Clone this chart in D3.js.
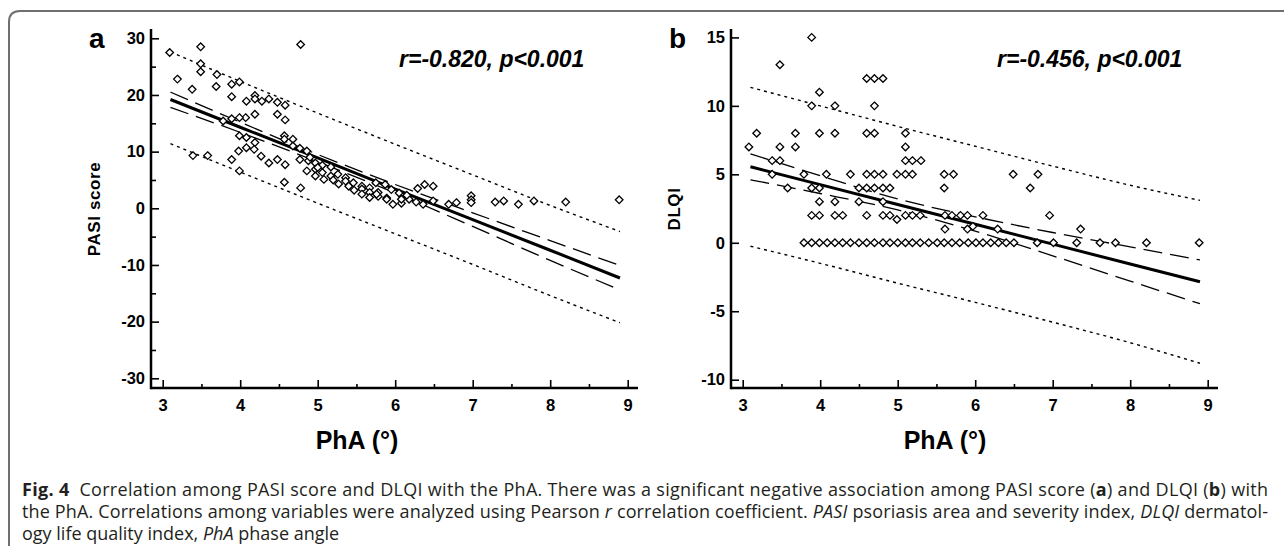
<!DOCTYPE html>
<html>
<head>
<meta charset="utf-8">
<script src="https://cdn.jsdelivr.net/npm/d3@7/dist/d3.min.js"></script>
<style>
  body { margin: 0; background: #fff; }
  svg { display: block; }
  .tick text { font-family: "Liberation Sans", Arial, sans-serif; font-weight: bold; font-size: 16.5px; fill: #000; }
</style>
</head>
<body>
<svg id="fig" width="1284" height="546"></svg>
<script>
// ─── DATA ────────────────────────────────────────────────────
// panel a: PhA vs PASI score
const pasiPhA = [3.09,3.49,3.49,3.49,3.70,3.19,3.38,3.69,3.89,3.99,3.89,4.08,4.19,4.19,4.28,4.37,4.48,4.58,4.48,4.58,
  4.19,4.07,3.99,3.89,3.78,3.99,4.08,4.19,3.98,4.08,4.18,4.27,4.37,4.48,4.58,4.57,4.57,4.68,4.68,4.77,
  4.86,4.77,4.88,4.97,4.86,4.97,4.97,5.06,5.06,5.17,5.17,5.26,5.36,5.36,5.46,5.57,5.57,5.67,5.67,5.78,
  3.39,3.58,3.89,3.99,4.57,4.78,4.78,5.57,5.67,5.78,5.89,5.76,5.89,5.97,6.08,6.08,6.18,6.27,6.36,6.49,
  6.38,6.49,6.29,6.69,6.79,6.98,6.98,6.98,7.29,7.40,7.59,7.79,8.20,8.89,5.75,5.87,5.95,6.05,6.15,5.47,
  5.27,5.08,4.90,5.00,5.20,5.40];
const pasiScore = [27.5,28.5,25.5,24.1,23.6,22.8,21.0,21.5,21.9,22.3,19.7,18.9,19.9,19.3,18.9,19.3,18.7,18.2,16.6,15.6,
  16.6,16.0,16.0,15.8,15.4,12.8,12.5,11.6,10.1,10.7,10.4,9.2,8.0,8.6,7.7,12.8,12.2,12.2,11.0,10.6,
  10.1,8.6,8.4,8.0,6.6,6.9,5.7,7.6,6.3,7.3,5.7,6.0,5.4,4.8,4.5,3.9,3.4,3.6,2.8,2.8,
  9.3,9.3,8.6,6.6,4.6,3.6,28.9,2.5,1.9,2.1,1.8,2.5,1.6,0.7,0.9,1.6,1.6,1.1,0.7,1.3,
  4.2,3.9,3.5,0.7,1.0,2.2,1.5,1.0,1.1,1.3,0.7,1.3,1.1,1.5,4.5,4.2,3.3,2.7,2.3,3.2,
  4.3,5.1,9.0,7.2,5.0,3.9];

// panel b: PhA vs DLQI
const dlqiPhA = [3.08,3.18,3.48,3.38,3.48,3.48,3.38,3.68,3.68,3.58,3.79,3.89,3.89,3.99,3.99,4.08,3.89,3.99,4.19,4.19,
  4.39,4.60,4.60,4.70,4.60,4.70,4.81,4.70,4.70,4.81,4.99,5.10,5.19,5.10,5.10,5.10,5.19,5.30,5.60,5.72,
  5.60,4.50,4.60,4.70,4.81,4.90,6.49,6.81,6.71,3.99,4.19,4.50,4.81,3.89,3.99,4.19,4.29,4.60,4.81,4.90,
  4.99,5.10,5.19,5.29,5.61,5.61,5.70,5.81,5.90,5.90,5.97,6.10,6.29,6.96,7.36,
  3.79,3.89,3.99,4.09,4.19,4.29,4.39,4.50,4.60,4.70,4.81,4.90,5.00,5.10,5.19,5.29,5.40,5.51,5.60,5.70,
  5.80,5.91,6.01,6.10,6.20,6.30,6.40,6.50,6.80,7.01,7.31,7.61,7.81,8.21,8.89];
const dlqiScore = [7,8,13,6,6,7,5,8,7,4,5,15,10,11,8,5,4,4,10,8,
  5,12,8,8,5,12,12,10,5,5,5,5,5,8,7,6,6,6,5,5,
  4,4,4,4,4,4,5,5,4,3,3,3,3,2,2,2,2,2,2,2,
  1.7,2,2,2,1,2,2,2,2,1,1.2,2,1,2,1,
  0,0,0,0,0,0,0,0,0,0,0,0,0,0,0,0,0,0,0,0,
  0,0,0,0,0,0,0,0,0,0,0,0,0,0,0];

// fitted line, 95% confidence band, 95% prediction band (read at these PhA values)
const fitPhA = [3.1, 4, 5, 6, 7, 8, 8.9];
const pasiFit     = [19.2, 14.3, 8.9, 3.4, -2.0, -7.4, -12.3];
const pasiCiHigh  = [20.5, 15.2, 9.5, 4.2, -0.8, -5.7, -10.1];
const pasiCiLow   = [17.8, 13.4, 8.2, 2.7, -3.2, -9.2, -14.4];
const pasiPiHigh  = [27.6, 22.4, 16.8, 11.3, 5.9, 0.5, -4.1];
const pasiPiLow   = [11.4, 6.4, 0.9, -4.5, -9.9, -15.4, -20.2];

const dlqiFit     = [5.55, 4.25, 2.80, 1.35, -0.10, -1.55, -2.85];
const dlqiCiHigh  = [6.5, 4.9, 3.2, 1.9, 0.75, -0.3, -1.25];
const dlqiCiLow   = [4.6, 3.6, 2.4, 0.85, -0.95, -2.8, -4.45];
const dlqiPiHigh  = [11.35, 10.0, 8.5, 7.05, 5.6, 4.2, 3.1];
const dlqiPiLow   = [-0.25, -1.5, -2.95, -4.35, -5.8, -7.3, -8.8];

const xTicks = [3, 4, 5, 6, 7, 8, 9];
const pasiTicks = [-30, -20, -10, 0, 10, 20, 30];
const dlqiTicks = [-10, -5, 0, 5, 10, 15];

const svg = d3.select("#fig");
const FONT = "'Liberation Sans', Arial, sans-serif";
const plain = d => String(d);   // keep the hyphen minus of the original

// ─── FIGURE FRAME ───────────────────────────────────────────
svg.append("path")
  .attr("d", "M9,546 V22 Q9,11 20,11 H1284")
  .attr("fill", "none")
  .attr("stroke", "#6f6f6f")
  .attr("stroke-width", 2);

// ─── ONE PANEL ──────────────────────────────────────────────
function drawPanel(p) {
  const g = svg.append("g");
  const x = d3.scaleLinear().domain([3, 9]).range([p.left + 11.7, p.left + 476.7]);
  const y = d3.scaleLinear().domain(p.yDomain).range(p.yRange);
  const axisBottomY = 388, axisTopY = 29;

  // minor ticks
  const minorX = d3.range(3.5, 9, 1);
  g.append("g").attr("transform", `translate(0,${axisBottomY})`)
    .call(d3.axisBottom(x).tickValues(minorX).tickSize(-4).tickFormat(""))
    .call(a => a.select(".domain").remove())
    .selectAll("line").attr("stroke", "#000").attr("stroke-width", 1.6);
  g.append("g").attr("transform", `translate(${p.left},0)`)
    .call(d3.axisLeft(y).tickValues(p.yMinor).tickSize(-5).tickFormat(""))
    .call(a => a.select(".domain").remove())
    .selectAll("line").attr("stroke", "#000").attr("stroke-width", 1.6);

  // major ticks
  const gx = g.append("g").attr("transform", `translate(0,${axisBottomY})`)
    .call(d3.axisBottom(x).tickValues(xTicks).tickSize(-8).tickPadding(11).tickFormat(plain))
    .call(a => a.select(".domain").remove());
  gx.selectAll("line").attr("stroke", "#000").attr("stroke-width", 1.6);

  const gy = g.append("g").attr("transform", `translate(${p.left},0)`)
    .call(d3.axisLeft(y).tickValues(p.yTicks).tickSize(-8).tickPadding(6).tickFormat(plain))
    .call(a => a.select(".domain").remove());
  gy.selectAll("line").attr("stroke", "#000").attr("stroke-width", 1.6);

  // axis lines
  g.append("line").attr("x1", p.left).attr("x2", p.left).attr("y1", axisTopY).attr("y2", axisBottomY + 1.2)
    .attr("stroke", "#000").attr("stroke-width", 2.5);
  g.append("line").attr("x1", p.left).attr("x2", p.left + 487).attr("y1", axisBottomY).attr("y2", axisBottomY)
    .attr("stroke", "#000").attr("stroke-width", 2.5);

  // bands and fit
  const line = (vals, curve) => d3.line()
    .x((d, i) => x(fitPhA[i])).y(d => y(d)).curve(curve)(vals);
  [p.piHigh, p.piLow].forEach(v => g.append("path").attr("d", line(v, d3.curveMonotoneX))
    .attr("fill", "none").attr("stroke", "#000").attr("stroke-width", 1.4).attr("stroke-dasharray", "3,4"));
  [p.ciHigh, p.ciLow].forEach(v => g.append("path").attr("d", line(v, d3.curveMonotoneX))
    .attr("fill", "none").attr("stroke", "#000").attr("stroke-width", 1.3).attr("stroke-dasharray", "19,8"));
  g.append("path").attr("d", line(p.fit, d3.curveLinear))
    .attr("fill", "none").attr("stroke", "#000").attr("stroke-width", 3);

  // scatter points (open diamonds)
  const r = 3.8;
  g.selectAll("path.pt").data(p.xs).enter().append("path")
    .attr("class", "pt")
    .attr("d", `M0,${-r}L${r},0L0,${r}L${-r},0Z`)
    .attr("transform", (d, i) => `translate(${x(d)},${y(p.ys[i])})`)
    .attr("fill", "#fff").attr("stroke", "#000").attr("stroke-width", 1.3);

  // texts
  g.append("text").attr("x", p.left - 62).attr("y", 48).text(p.letter)
    .attr("font-family", FONT).attr("font-weight", "bold").attr("font-size", 28);
  g.append("text")
    .attr("transform", `translate(${p.left - 51},209) rotate(-90)`)
    .attr("text-anchor", "middle").text(p.yTitle)
    .attr("font-family", FONT).attr("font-weight", "bold").attr("font-size", 17)
    .attr("letter-spacing", 0.6);
  g.append("text").attr("x", p.left + p.titleOffset).attr("y", 449)
    .attr("text-anchor", "middle").text("PhA (°)")
    .attr("font-family", FONT).attr("font-weight", "bold").attr("font-size", 25);
  g.append("text").attr("x", p.statX).attr("y", 67).text(p.stat)
    .attr("font-family", FONT).attr("font-weight", "bold").attr("font-style", "italic").attr("font-size", 23);
}

drawPanel({
  left: 151, letter: "a", yTitle: "PASI score", titleOffset: 206,
  yDomain: [-30, 30], yRange: [378.3, 38.3],
  yTicks: pasiTicks, yMinor: d3.range(-25, 30, 10),
  xs: pasiPhA, ys: pasiScore,
  fit: pasiFit, ciHigh: pasiCiHigh, ciLow: pasiCiLow, piHigh: pasiPiHigh, piLow: pasiPiLow,
  stat: "r=-0.820, p<0.001", statX: 399
});
drawPanel({
  left: 731, letter: "b", yTitle: "DLQI", titleOffset: 214,
  yDomain: [-10, 15], yRange: [379.7, 37.4],
  yTicks: dlqiTicks, yMinor: [],
  xs: dlqiPhA, ys: dlqiScore,
  fit: dlqiFit, ciHigh: dlqiCiHigh, ciLow: dlqiCiLow, piHigh: dlqiPiHigh, piLow: dlqiPiLow,
  stat: "r=-0.456, p<0.001", statX: 997
});

// ─── CAPTION ────────────────────────────────────────────────
const captionLines = [
  [["Fig. 4", "b"], ["  Correlation among PASI score and DLQI with the PhA. There was a significant negative association among PASI score (", ""],
   ["a", "b"], [") and DLQI (", ""], ["b", "b"], [") with", ""]],
  [["the PhA. Correlations among variables were analyzed using Pearson ", ""], ["r", "i"], [" correlation coefficient. ", ""],
   ["PASI", "i"], [" psoriasis area and severity index, ", ""], ["DLQI", "i"], [" dermatol-", ""]],
  [["ogy life quality index, ", ""], ["PhA", "i"], [" phase angle", ""]]
];
const captionY = [496, 518, 540];
captionLines.forEach((parts, li) => {
  const t = svg.append("text").attr("x", 22).attr("y", captionY[li])
    .attr("font-family", "'Open Sans', 'Noto Sans', sans-serif").attr("font-size", 18)
    .attr("fill", "#231f20").style("white-space", "pre");
  if (li < 2) t.attr("textLength", 1246).attr("lengthAdjust", "spacing");
  parts.forEach(([s, st]) => {
    const ts = t.append("tspan").text(s);
    if (st === "b") ts.attr("font-weight", "bold");
    if (st === "i") ts.attr("font-style", "italic");
  });
});
</script>
</body>
</html>
